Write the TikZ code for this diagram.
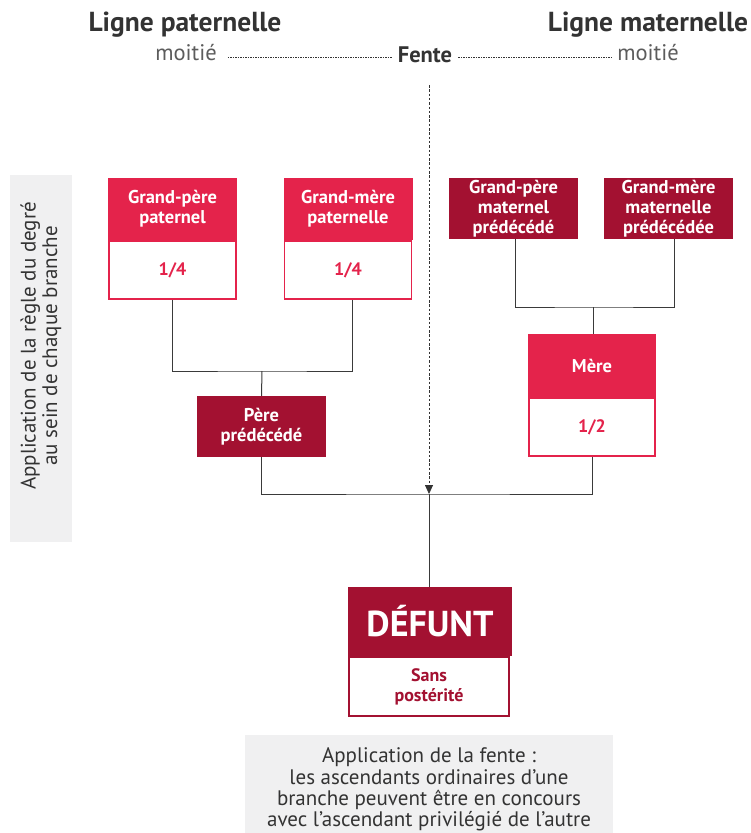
\documentclass[tikz,border=0pt]{standalone}
\usepackage{fontspec}
\setmainfont{PT Sans}
\usetikzlibrary{arrows.meta}
\definecolor{rouge}{HTML}{E4234B}
\definecolor{bordeaux}{HTML}{A31131}
\definecolor{gristxt}{HTML}{333333}
\definecolor{grisfond}{HTML}{F0F0F1}
\definecolor{trait}{HTML}{3A3A3A}
\begin{document}
\begin{tikzpicture}[x=1pt,y=-1pt,
  headbox/.style={fill=rouge, text=white, font=\bfseries\fontsize{18.5}{20}\selectfont,
    align=center, inner sep=0pt, minimum width=129pt, minimum height=62pt},
  darkbox/.style={headbox, fill=bordeaux},
  partbox/.style={draw=rouge, line width=1.8pt, fill=white, text=rouge,
    font=\bfseries\fontsize{18}{20}\selectfont, align=center, inner sep=0pt,
    minimum width=127pt, minimum height=58pt},
  link/.style={draw=trait, line width=1pt},
  titre/.style={text=gristxt, font=\bfseries\fontsize{27.5}{29}\selectfont, inner sep=0pt},
  moitie/.style={text=gristxt!80, font=\fontsize{22.5}{24}\selectfont, inner sep=0pt},
  pointille/.style={draw=gristxt, line width=0.7pt, dash pattern=on 1.5pt off 1pt},
  note/.style={fill=grisfond, text=gristxt, font=\fontsize{21}{21.5}\selectfont, align=center, inner sep=0pt}
]
\useasboundingbox (0,0) rectangle (751,833);

% header
\node[titre] (lp) at (185,25) {Ligne paternelle};
\node[titre] (lm) at (648,25) {Ligne maternelle};
\node[moitie] (mol) at (186,53) {moitié};
\node[titre, font=\bfseries\fontsize{22.5}{24}\selectfont] (fente) at (425,55) {Fente};
\node[moitie] (mor) at (648,53) {moitié};
\draw[pointille] ([xshift=11pt]mol.east |- 0,57) -- ([xshift=-6pt]fente.west |- 0,57);
\draw[pointille] ([xshift=6pt]fente.east |- 0,57) -- ([xshift=-6pt]mor.west |- 0,57);

% side notes
\fill[grisfond] (10,175) rectangle (72,542);
\node[note, fill=none, rotate=90] (regle) at (41,346)
  {Application de la règle du degré\\au sein de chaque branche};
\fill[grisfond] (245,735) rectangle (613,833);
\node[note, fill=none] (fentenote) at (429,789.5)
  {Application de la fente :\\les ascendants ordinaires d’une\\branche peuvent être en concours\\avec l’ascendant privilégié de l’autre};

% paternal grandparents
\node[headbox] (gpp) at (172.5,209) {Grand-père\\paternel};
\node[partbox] (gppv) at (172.5,270) {1/4};
\node[headbox] (gmp) at (348,209) {Grand-mère\\paternelle};
\node[partbox] (gmpv) at (348,270) {1/4};

% maternal grandparents
\node[darkbox, minimum height=61pt] (gpm) at (513.5,208.5) {Grand-père\\maternel\\prédécédé};
\node[darkbox, minimum height=61pt] (gmm) at (668.5,208.5) {Grand-mère\\maternelle\\prédécédée};

% parents
\node[darkbox, minimum height=61pt] (pere) at (261.5,426.5) {Père\\prédécédé};
\node[headbox, minimum width=128pt, minimum height=63pt] (mere) at (592,365.5) {Mère};
\node[partbox, minimum width=126pt] (merev) at (592,427) {1/2};

% deceased
\node[darkbox, minimum width=164pt, minimum height=69pt,
  font=\bfseries\fontsize{36}{38}\selectfont] (defunt) at (430,621.5) {DÉFUNT};
\node[partbox, draw=bordeaux, text=bordeaux, minimum width=160pt, minimum height=59pt]
  (defuntv) at (429,686.5) {Sans\\postérité};

% junctions
\coordinate (jp) at (262,371);
\coordinate (jm) at (593,307);
\coordinate (jd) at (429,494);
\coordinate (ftop) at (429,85);

\draw[link] (gppv.south) |- (jp) -| ([xshift=4pt]gmpv.south);
\draw[link] (jp) -- (pere.north);
\draw[link] ([xshift=1.5pt]gpm.south) |- (jm) -| ([xshift=5.5pt]gmm.south);
\draw[link] (jm) -- ([xshift=1pt]mere.north);
\draw[link] (pere.south) |- (jd) -| (merev.south);
\draw[link] (jd) -- (defunt.north -| jd);
\draw[draw=gristxt, line width=0.8pt, dash pattern=on 2.5pt off 1.8pt,
  -{Triangle[width=8pt,length=9pt]}] (ftop) -- (jd);
\end{tikzpicture}
\end{document}
